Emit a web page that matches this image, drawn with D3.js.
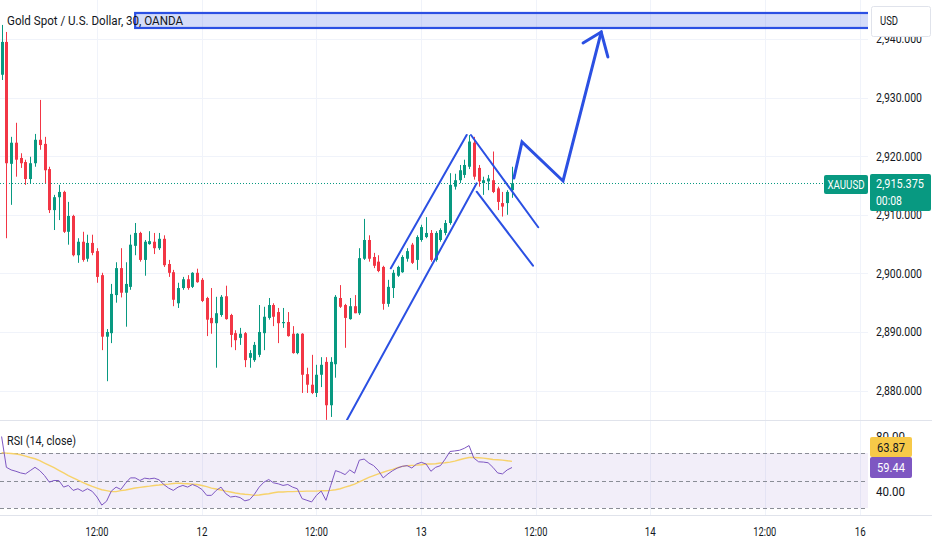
<!DOCTYPE html>
<html><head><meta charset="utf-8">
<script src="https://cdn.jsdelivr.net/npm/d3@7"></script>
<style>html,body{margin:0;padding:0;background:#fff;overflow:hidden}</style>
</head><body><svg id="c" width="932" height="550"></svg>
<script>
// ---------- DATA ----------
const opens=[2933.9,2939.5,2918.7,2922.3,2919.7,2919.0,2916.1,2918.8,2922.8,2922.1,
2917.8,2910.8,2913.0,2913.9,2907.1,2909.8,2903.1,2905.4,2902.5,2905.2,
2903.8,2899.7,2889.2,2889.8,2896.3,2900.9,2896.7,2897.7,2904.7,2906.9,
2902.3,2905.0,2905.4,2904.3,2905.9,2901.6,2900.2,2894.9,2897.5,2899.0,
2897.7,2900.1,2898.9,2895.8,2892.4,2891.5,2892.9,2896.1,2892.9,2889.8,
2889.0,2889.8,2885.6,2885.2,2886.1,2889.8,2892.4,2894.6,2893.4,2891.5,
2891.7,2889.7,2886.4,2889.7,2882.8,2881.0,2879.6,2882.7,2884.9,2877.5,
2884.5,2895.8,2894.6,2892.2,2894.4,2893.2,2902.5,2905.7,2902.8,2902.0,
2901.1,2894.8,2897.5,2899.6,2900.2,2902.5,2904.9,2902.3,2905.7,2906.2,
2906.9,2902.3,2905.7,2906.9,2908.6,2914.8,2915.9,2916.8,2918.2,2922.3,
2918.0,2915.4,2915.7,2915.9,2914.5,2912.0,2912.0,2914.2];
const highs=[2942.4,2941.2,2923.3,2925.7,2920.5,2919.4,2919.9,2923.8,2929.6,2923.3,
2918.2,2913.4,2915.1,2914.1,2912.2,2910.0,2906.0,2907.1,2906.6,2906.6,
2904.3,2900.1,2890.5,2898.2,2901.9,2904.3,2901.9,2906.6,2908.6,2907.1,
2905.7,2907.2,2906.9,2906.9,2906.5,2902.3,2900.6,2898.4,2899.4,2899.7,
2900.2,2900.8,2899.2,2896.0,2897.5,2896.0,2896.3,2897.9,2893.1,2890.3,
2890.7,2890.0,2886.9,2888.3,2894.6,2894.3,2895.8,2894.9,2894.1,2894.1,
2893.4,2891.0,2889.8,2889.8,2883.9,2886.1,2884.4,2885.7,2885.7,2885.7,
2896.3,2898.0,2894.8,2895.8,2896.3,2904.3,2909.3,2906.5,2903.5,2903.1,
2901.3,2898.9,2900.6,2901.3,2903.1,2904.3,2905.2,2906.5,2908.3,2909.6,
2907.4,2907.2,2907.7,2909.1,2917.1,2917.0,2918.5,2919.4,2923.6,2923.3,
2918.5,2916.5,2916.8,2920.8,2914.8,2913.9,2914.2,2918.2];
const lows=[2933.0,2906.0,2911.7,2916.5,2918.0,2915.1,2915.4,2918.2,2921.1,2915.4,
2910.3,2907.4,2909.1,2906.9,2904.9,2902.9,2901.8,2902.0,2902.0,2903.1,
2898.4,2886.9,2881.6,2888.1,2895.0,2895.9,2890.9,2897.2,2903.1,2902.0,
2899.6,2904.9,2903.3,2904.0,2901.1,2899.4,2894.4,2894.1,2897.2,2897.2,
2897.5,2898.4,2895.1,2889.3,2889.7,2883.9,2892.6,2892.1,2887.4,2886.9,
2887.8,2884.0,2883.9,2884.9,2885.7,2886.9,2892.1,2891.0,2888.1,2890.7,
2889.2,2886.3,2886.2,2879.6,2879.6,2879.4,2878.9,2880.6,2875.0,2875.5,
2882.2,2894.1,2887.3,2892.1,2893.2,2892.9,2902.3,2902.0,2900.9,2900.2,
2893.8,2894.3,2895.8,2899.4,2900.1,2902.0,2901.6,2900.6,2905.4,2906.0,
2902.0,2902.0,2905.4,2906.5,2908.3,2914.3,2915.4,2916.3,2917.8,2916.0,
2914.8,2913.4,2914.2,2913.7,2910.8,2909.7,2910.0,2912.9];
const closes=[2939.5,2918.8,2922.3,2919.4,2918.8,2916.1,2918.8,2922.8,2921.9,2917.6,
2910.8,2913.0,2913.9,2907.1,2909.8,2903.1,2905.4,2902.3,2905.2,2903.5,
2899.4,2889.2,2890.0,2896.5,2900.9,2896.7,2898.2,2904.9,2906.9,2902.3,
2905.4,2905.5,2904.3,2905.9,2901.4,2900.1,2895.5,2897.5,2899.0,2897.5,
2900.1,2898.5,2895.3,2892.1,2891.5,2893.2,2896.0,2892.2,2889.5,2888.6,
2889.7,2885.2,2886.4,2887.8,2890.0,2892.6,2894.6,2892.6,2891.5,2891.7,
2889.3,2886.4,2889.7,2882.7,2881.0,2879.6,2882.7,2884.4,2877.5,2884.9,
2896.0,2894.3,2892.4,2894.4,2893.2,2902.6,2905.7,2902.5,2901.3,2900.4,
2894.8,2897.7,2900.1,2901.1,2902.8,2903.8,2901.8,2906.2,2907.9,2906.9,
2902.3,2906.9,2907.4,2908.6,2915.1,2915.9,2917.6,2918.5,2922.5,2916.5,
2915.7,2915.9,2916.2,2913.9,2912.2,2911.4,2913.9,2915.375];
const rsiValues=[82,59.6,57.7,56.7,55.5,54.8,57.2,59.6,57.2,53.6,
48.8,50,50,45.2,46.4,42.8,44.0,42.1,44.0,42.1,
38.0,32.1,34.9,42.3,45.2,43.5,48.1,51.9,51.9,50,
51.7,51.2,51.7,50.5,47.1,44.5,42.8,45.2,46.4,45.2,
47.1,45.7,43.5,39.2,39.2,42.8,45.2,40.4,38.0,38.5,
37.6,35.2,36.1,40.0,45.2,48.8,50.7,48.3,47.6,46.4,
47.1,45.2,44.0,36.8,35.6,34.4,39.2,42.3,35.6,46.4,
57.2,56.0,54.3,57.7,55.3,64.8,65.6,62.7,60.8,57.2,
51.9,54.8,57.2,59.1,60.3,60.8,59.1,62.0,63.2,62.0,
56.7,59.6,60.8,65.6,71.1,71.5,72.0,73.4,75.4,66.3,
63.6,63.4,62.9,59.6,55.5,54.8,57.7,59.44];
const rsiMA=[70.2,69.9,69.6,69.3,68.7,67.7,66.7,65.8,64.4,62.7,
61.0,59.3,57.4,55.5,53.6,51.9,50.2,48.6,47.1,45.7,
44.5,43.3,42.6,41.9,41.9,42.6,43.1,43.8,44.5,45.0,
45.5,45.9,46.4,46.7,47.1,47.4,47.8,48.1,47.8,47.6,
47.4,47.1,46.4,45.5,44.5,43.8,43.1,42.3,41.6,40.9,
40.4,40.0,39.7,39.2,39.5,40.0,40.4,41.1,41.6,41.6,
41.9,41.9,42.1,42.1,42.3,42.3,42.3,42.6,42.6,42.8,
43.3,44.0,45.2,46.2,47.4,49.0,50.7,52.2,53.6,54.8,
56.0,57.2,58.1,59.3,60.3,60.8,61.0,61.2,61.5,62.0,
62.0,62.2,62.7,62.9,63.4,64.1,65.1,66.0,66.7,66.7,
66.5,66.3,65.8,65.3,65.1,64.8,64.4,63.87];
const priceTicks=[2880,2890,2900,2910,2920,2930,2940];
const timeTickIdx=[20,42,66,88,112,136,160,180];
const timeTickLabels=["12:00","12","12:00","13","12:00","14","12:00","16"];
const rsiTicks=[40,60,80];
const rsiLevels=[70,50,30];
const lastPrice=2915.375, lastRsi=59.44, lastMA=63.87;
// hand drawings, in (bar index, price)
const channelLines=[
  [[72.4,2874.98],[99.6,2915.37]],
  [[99.6,2913.94],[111.4,2901.31]],
  [[81.6,2900.87],[97.5,2923.62]],
  [[98.4,2923.62],[112.5,2907.87]]
];
const zigzag=[[107.4,2916.28],[109.1,2922.42],[117.7,2915.77],[125.7,2941.19]];
const arrowHead=[[121.9,2939.32],[125.7,2941.19],[127.1,2936.93]];
const zone={i0:28,i1:200,top:2944.44,bottom:2941.88};

// ---------- LAYOUT ----------
const W=932,H=550,PW=868,MAIN_B=420,RSI_B=515;
const svg=d3.select('#c');
const FONT='Roboto, "Noto Sans", sans-serif';
const UP='#089981',DN='#F23645',GRID='#f0f3fa',TXT='#131722',BLUE='#2b50e3';

const x=d3.scaleLinear().domain([0,107]).range([1.6,1.6+107*4.77]);
const y=d3.scaleLinear().domain([2874.98,2946.655]).range([MAIN_B,0]);
const yr=d3.scaleLinear().domain([30,70]).range([508,453]);

function txt(g,px,py,s,o){
  const t=g.append('text').attr('x',px).attr('y',py).text(s)
    .attr('font-family',FONT).attr('font-size',o.size||12.5)
    .attr('fill',o.fill||TXT).attr('text-anchor',o.anchor||'start')
    .attr('dominant-baseline','central');
  if(o.weight)t.attr('font-weight',o.weight);
  if(o.w)t.attr('textLength',o.w).attr('lengthAdjust','spacingAndGlyphs');
  return t;
}

const defs=svg.append('defs');
defs.append('clipPath').attr('id','cm').append('rect').attr('x',0).attr('y',0).attr('width',PW).attr('height',MAIN_B);
defs.append('clipPath').attr('id','cr').append('rect').attr('x',0).attr('y',MAIN_B+1).attr('width',PW).attr('height',RSI_B-MAIN_B-1);

// grid
const grid=svg.append('g');
grid.selectAll('.hg').data(priceTicks).join('line')
  .attr('x1',0).attr('x2',PW).attr('y1',d=>Math.round(y(d))+0.5).attr('y2',d=>Math.round(y(d))+0.5)
  .attr('stroke',GRID);
grid.selectAll('.vg').data(timeTickIdx).join('line')
  .attr('x1',d=>Math.round(x(d))+0.5).attr('x2',d=>Math.round(x(d))+0.5).attr('y1',0).attr('y2',RSI_B)
  .attr('stroke',GRID);

// main pane
const main=svg.append('g').attr('clip-path','url(#cm)');
main.append('rect').attr('x',x(zone.i0)).attr('y',y(zone.top))
  .attr('width',x(zone.i1)-x(zone.i0)).attr('height',y(zone.bottom)-y(zone.top))
  .attr('fill','rgba(41,82,227,0.2)').attr('stroke',BLUE).attr('stroke-width',2.2);

main.append('line').attr('x1',0).attr('x2',PW).attr('y1',Math.round(y(lastPrice))+0.5).attr('y2',Math.round(y(lastPrice))+0.5)
  .attr('stroke',UP).attr('stroke-dasharray','1 2');

const idx=d3.range(opens.length);
const cg=main.append('g');
cg.selectAll('.w').data(idx).join('line')
  .attr('x1',i=>Math.round(x(i))+0.5).attr('x2',i=>Math.round(x(i))+0.5)
  .attr('y1',i=>y(highs[i])).attr('y2',i=>y(lows[i]))
  .attr('stroke',i=>closes[i]>=opens[i]?UP:DN).attr('stroke-width',1);
cg.selectAll('.b').data(idx).join('rect')
  .attr('x',i=>Math.round(x(i))-1).attr('width',3)
  .attr('y',i=>y(Math.max(opens[i],closes[i])))
  .attr('height',i=>Math.max(1,Math.abs(y(opens[i])-y(closes[i]))))
  .attr('fill',i=>closes[i]>=opens[i]?UP:DN);

const lg=d3.line().x(d=>x(d[0])).y(d=>y(d[1]));
main.selectAll('.ch').data(channelLines).join('path').attr('d',lg)
  .attr('fill','none').attr('stroke',BLUE).attr('stroke-width',2).attr('stroke-linecap','round');
main.append('path').attr('d',lg(zigzag)).attr('fill','none').attr('stroke',BLUE).attr('stroke-width',3)
  .attr('stroke-linejoin','miter').attr('stroke-linecap','round');
main.append('path').attr('d',lg(arrowHead)).attr('fill','none').attr('stroke',BLUE).attr('stroke-width',3)
  .attr('stroke-linejoin','miter').attr('stroke-linecap','round');

txt(svg,7,20,'Gold Spot / U.S. Dollar, 30, OANDA',{size:13.5,w:176});

main.append('rect').attr('x',824).attr('y',175).attr('width',44).attr('height',19).attr('rx',2).attr('fill',UP);
txt(svg,846,184.5,'XAUUSD',{size:12,fill:'#fff',anchor:'middle',w:37});

svg.append('line').attr('x1',0).attr('x2',W).attr('y1',MAIN_B+0.5).attr('y2',MAIN_B+0.5).attr('stroke','#e0e3eb');
svg.append('line').attr('x1',0).attr('x2',W).attr('y1',RSI_B+0.5).attr('y2',RSI_B+0.5).attr('stroke','#e0e3eb');

// price axis
const pa=svg.append('g');
priceTicks.forEach(p=>txt(pa,876,y(p),d3.format(',.3f')(p),{w:46}));
pa.append('rect').attr('x',871.5).attr('y',6.5).attr('width',59).attr('height',30).attr('rx',2)
  .attr('fill','#fff').attr('stroke','#e0e3eb');
txt(pa,880,20.5,'USD',{size:12,w:18});
pa.append('rect').attr('x',870).attr('y',174).attr('width',61).attr('height',37).attr('rx',2).attr('fill',UP);
txt(pa,876,183.5,d3.format(',.3f')(lastPrice),{fill:'#fff',w:48});
txt(pa,876,200,'00:08',{fill:'#fff',w:26});

// RSI pane
const rp=svg.append('g').attr('clip-path','url(#cr)');
rp.append('rect').attr('x',0).attr('width',PW).attr('y',yr(70)).attr('height',yr(30)-yr(70))
  .attr('fill','rgba(126,87,194,0.1)');
rp.selectAll('.lv').data(rsiLevels).join('line')
  .attr('x1',0).attr('x2',PW).attr('y1',d=>Math.round(yr(d))+0.5).attr('y2',d=>Math.round(yr(d))+0.5)
  .attr('stroke','#8a8d96').attr('stroke-dasharray','4 3');
const rl=d3.line().x((d,i)=>x(i)).y(d=>yr(d));
rp.append('path').attr('d',rl(rsiMA)).attr('fill','none').attr('stroke','#F7D26A').attr('stroke-width',1.4);
rp.append('path').attr('d',rl(rsiValues)).attr('fill','none').attr('stroke','#7E57C2').attr('stroke-width',1);
txt(svg,7,440,'RSI (14, close)',{size:12.5,w:69});

// RSI axis (labels for 60/80 sit under the value boxes, as in the reference)
rsiTicks.forEach(v=>txt(pa,876,yr(v)-3,d3.format('.2f')(v),{w:29}));
pa.append('rect').attr('x',870).attr('y',437).attr('width',42).attr('height',20).attr('rx',2).attr('fill','#F7C948');
txt(pa,877,447,d3.format('.2f')(lastMA),{w:28});
pa.append('rect').attr('x',870).attr('y',457).attr('width',42).attr('height',21).attr('rx',2).attr('fill','#7E57C2');
txt(pa,877,467.5,d3.format('.2f')(lastRsi),{fill:'#fff',w:28});

// time axis
const ta=svg.append('g');
timeTickIdx.forEach((t,k)=>{
  const s=timeTickLabels[k];
  txt(ta,x(t),531,s,{anchor:'middle',w:s.length>2?23:11});
});
</script></body></html>
